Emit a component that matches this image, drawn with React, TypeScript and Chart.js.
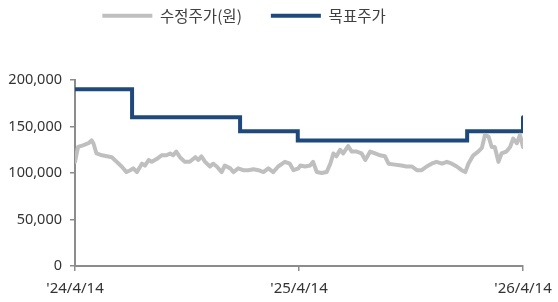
import React, { useEffect, useRef } from "react";
import { Chart, registerables } from "chart.js";

Chart.register(...registerables);

// Price series: day offset from '24/4/14 and adjusted price (원)
const priceDays = [0, 3, 5, 14, 22, 27, 30, 35, 44, 52, 60, 68, 76, 84, 90, 95, 101, 109, 114, 120, 125, 133, 141, 149, 155, 160, 165, 171, 179, 187, 196, 201, 206, 212, 220, 225, 231, 239, 244, 253, 258, 266, 274, 282, 291, 299, 307, 315, 323, 331, 342, 350, 356, 364, 367, 375, 383, 388, 394, 402, 410, 416, 421, 426, 432, 437, 445, 451, 459, 467, 473, 481, 489, 497, 505, 511, 521, 532, 540, 549, 557, 565, 573, 581, 589, 598, 606, 614, 622, 630, 636, 641, 649, 657, 663, 668, 674, 679, 684, 690, 695, 703, 709, 714, 720, 725, 730];
const priceValues = [112000, 122000, 128000, 130000, 132000, 135000, 132000, 121000, 119000, 118000, 117000, 112000, 107000, 101000, 103000, 105000, 101000, 110000, 108000, 114000, 112000, 115000, 119000, 119000, 121000, 119000, 123000, 117000, 112000, 112000, 117000, 114000, 118000, 112000, 107000, 110000, 107000, 101000, 108000, 105000, 101000, 105000, 103000, 103000, 104000, 103000, 101000, 105000, 101000, 107000, 112000, 110000, 103000, 105000, 108000, 107000, 108000, 112000, 101000, 100000, 101000, 110000, 121000, 118000, 125000, 121000, 129000, 123000, 123000, 121000, 114000, 123000, 121000, 119000, 118000, 110000, 109000, 108000, 107000, 107000, 103000, 103000, 107000, 110000, 112000, 110000, 112000, 110000, 107000, 103000, 101000, 110000, 119000, 123000, 127000, 141000, 139000, 128000, 128000, 112000, 121000, 123000, 128000, 137000, 132000, 141000, 128000];

// Target price: step changes
const targetDays = [0, 93, 93, 269, 269, 363, 363, 639, 639, 730, 730];
const targetValues = [190000, 190000, 160000, 160000, 145000, 145000, 135000, 135000, 145000, 145000, 160000];

const seriesNames = ["수정주가(원)", "목표주가"];
const xTickDays = [0, 365, 730];
const xTickLabels = ["'24/4/14", "'25/4/14", "'26/4/14"];
const yTicks = [0, 50000, 100000, 150000, 200000];

const GRAY = "#BFBFBF";
const NAVY = "#1F497D";
const AXIS = "#8C8C8C";
const TEXT = "#333333";

export default function App() {
  const ref = useRef<HTMLCanvasElement | null>(null);

  useEffect(() => {
    if (!ref.current) return;
    const legendPlace = {
      id: "legendPlace",
      beforeInit(chart: any) {
        const orig = chart.legend.fit;
        chart.legend.fit = function () {
          orig.bind(chart.legend)();
          this.height = 80;
        };
      },
      afterLayout(chart: any) {
        const lg = chart.legend;
        lg.top = -21;
        lg.left = 0;
        lg.right = 488;
      },
    };
    const chart = new Chart(ref.current, {
      type: "line",
      data: {
        datasets: [
          {
            label: seriesNames[0],
            data: priceDays.map((d, i) => ({ x: d, y: priceValues[i] })),
            borderColor: GRAY,
            backgroundColor: GRAY,
            borderWidth: 4,
            pointRadius: 0,
            tension: 0,
            borderJoinStyle: "round",
            borderCapStyle: "round",
          },
          {
            label: seriesNames[1],
            data: targetDays.map((d, i) => ({ x: d, y: targetValues[i] })),
            borderColor: NAVY,
            backgroundColor: NAVY,
            borderWidth: 4,
            pointRadius: 0,
            tension: 0,
            borderJoinStyle: "miter",
            borderCapStyle: "round",
          },
        ],
      },
      options: {
        animation: false,
        responsive: false,
        maintainAspectRatio: false,
        layout: { padding: { left: 0, right: 35, top: 0, bottom: 0 } },
        plugins: {
          tooltip: { enabled: false },
          legend: {
            display: true,
            position: "top",
            labels: {
              usePointStyle: true,
              pointStyle: "line",
              pointStyleWidth: 50,
              padding: 29,
              color: "#404040",
              font: { family: "'Noto Sans CJK KR', 'Noto Sans', sans-serif", size: 15.5 },
              sort: (a: any, b: any) => a.datasetIndex - b.datasetIndex,
            },
          },
        },
        scales: {
          x: {
            type: "linear",
            min: 0,
            max: 730,
            afterBuildTicks: (s: any) => {
              s.ticks = xTickDays.map((v) => ({ value: v }));
            },
            afterFit: (s: any) => {
              s.height = 36;
              s.paddingLeft = 0;
              s.paddingRight = 0;
            },
            ticks: {
              autoSkip: false,
              maxRotation: 0,
              padding: 9,
              color: TEXT,
              font: { family: "'Noto Sans', sans-serif", size: 15 },
              callback: (v: any) => {
                const i = xTickDays.indexOf(Number(v));
                return i >= 0 ? xTickLabels[i] : "";
              },
            },
            grid: { drawOnChartArea: false, drawTicks: true, tickLength: 5, color: AXIS, lineWidth: 1.5 },
            border: { display: true, color: AXIS, width: 2 },
          },
          y: {
            min: 0,
            max: 200000,
            afterBuildTicks: (s: any) => {
              s.ticks = yTicks.map((v) => ({ value: v }));
            },
            afterFit: (s: any) => {
              s.width = 75;
            },
            ticks: {
              padding: 8,
              color: TEXT,
              font: { family: "'Noto Sans', sans-serif", size: 14.5 },
              callback: (v: any) => Number(v).toLocaleString("en-US"),
            },
            grid: { drawOnChartArea: false, drawTicks: true, tickLength: 5, color: AXIS, lineWidth: 1.5 },
            border: { display: true, color: AXIS, width: 2 },
          },
        },
      },
      plugins: [legendPlace],
    });
    return () => chart.destroy();
  }, []);

  return (
    <div style={{ position: "fixed", left: 0, top: 0, width: 558, height: 302, background: "#fff" }}>
      <canvas ref={ref} width={558} height={302} style={{ width: 558, height: 302 }} />
    </div>
  );
}
